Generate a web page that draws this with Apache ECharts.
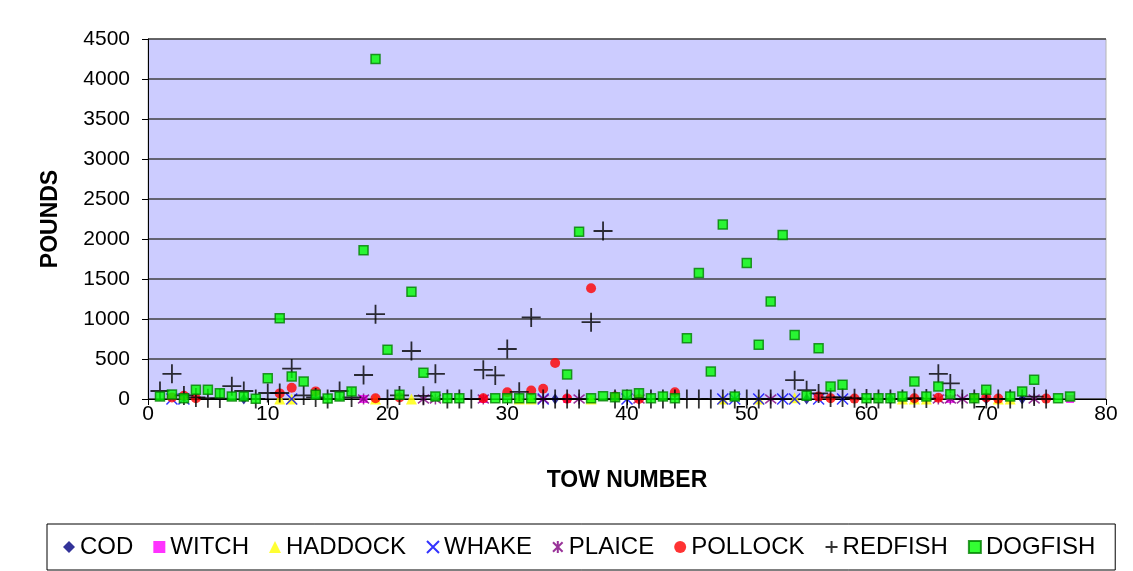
<!DOCTYPE html>
<html>
<head>
<meta charset="utf-8">
<script src="https://cdn.jsdelivr.net/npm/echarts@6/dist/echarts.min.js"></script>
<style>
  html, body { margin: 0; padding: 0; background: #fff; }
  #chart { width: 1133px; height: 571px; }
</style>
</head>
<body>
<div id="chart"></div>
<script>
// tow numbers 1..77
var TOWS = [];
for (var t = 1; t <= 77; t++) TOWS.push(t);

// pounds per tow (index 0 = tow 1), null = no marker
var COD = [
  null, null, null, null, null, null, null, 0, null, null,
  null, null, null, null, null, null, null, null, null, null,
  null, null, null, null, null, null, null, null, null, null,
  null, null, null, 0, null, null, null, null, null, null,
  null, null, null, null, null, null, null, null, null, null,
  null, null, null, null, 0, null, null, null, null, null,
  null, 0, null, null, null, null, null, null, null, 0,
  null, null, 0, null, null, null, null
];
var WITCH = [
  null, null, null, null, null, null, null, null, null, null,
  null, null, null, null, null, null, null, 0, null, null,
  null, null, null, null, null, null, null, 0, null, null,
  null, null, null, null, 0, null, null, null, null, null,
  null, null, null, null, null, null, null, null, null, null,
  null, null, null, null, null, null, null, null, null, null,
  0, null, null, null, null, null, 0, null, null, null,
  null, null, null, null, null, null, 0
];
var HADDOCK = [
  null, null, null, null, null, null, null, null, null, null,
  0, 0, null, null, null, null, null, null, 0, null,
  null, 0, null, null, null, null, null, null, null, null,
  0, 0, null, null, null, null, 0, null, null, null,
  null, null, null, null, null, null, null, 0, null, null,
  0, null, null, 15, null, null, null, null, null, null,
  null, null, 0, 0, 0, null, null, null, null, null,
  0, 0, null, null, null, null, null
];
var WHAKE = [
  null, 0, 0, null, null, null, null, null, null, null,
  null, 0, null, null, null, null, null, null, null, null,
  null, null, null, null, null, null, null, null, null, null,
  null, null, 0, null, null, null, null, null, null, 0,
  null, null, null, null, null, null, null, 0, 0, null,
  0, null, 0, 0, null, 0, null, 0, null, null,
  null, null, null, null, null, null, null, null, null, null,
  null, null, null, null, null, null, null
];
var PLAICE = [
  null, null, null, null, null, null, null, null, null, null,
  null, null, null, null, null, null, null, 0, null, null,
  null, null, 0, 0, null, null, null, 0, null, null,
  null, null, 0, null, null, 0, null, null, null, null,
  0, null, null, null, null, null, null, null, null, null,
  null, 0, null, null, null, null, null, null, null, null,
  null, null, null, null, null, 0, 0, 0, null, null,
  null, null, null, 0, null, null, null
];
var POLLOCK = [
  null, 20, 40, 10, null, null, null, null, null, null,
  70, 140, null, 95, null, null, null, null, 10, null,
  20, null, null, null, null, null, null, 10, null, 85,
  null, 106, 128, 450, 5, null, 1385, null, 30, null,
  0, null, null, 85, null, null, null, null, null, null,
  null, null, null, null, null, 30, 10, null, 5, null,
  null, null, null, 10, null, 15, null, null, 10, 20,
  5, null, null, null, 5, null, null
];
var REDFISH = [
  100, 315, 45, 20, 10, 5, 160, 100, 0, 75,
  75, 380, 45, 20, 0, 100, 20, 300, 1060, 0,
  45, 600, 40, 315, 0, 0, 0, 365, 295, 625,
  90, 1020, 0, 0, 0, 0, 960, 2100, 0, 0,
  0, 0, 0, 0, 0, 0, 0, 0, 0, 0,
  0, 0, 0, 235, 110, 70, 20, 20, 10, 5,
  0, 0, 0, 10, 5, 315, 195, 0, 0, 0,
  0, 0, 0, 30, 0, null, null
];
var DOGFISH = [
  31, 56, 10, 115, 115, 73, 31, 31, 3, 260,
  1010, 282, 219, 52, 5, 31, 94, 1860, 4250, 615,
  52, 1340, 328, 31, 10, 10, null, null, 10, 10,
  10, 10, null, null, 307, 2090, 10, 35, 22, 52,
  73, 10, 31, 10, 760, 1575, 344, 2180, 31, 1700,
  678, 1220, 2050, 800, 40, 635, 156, 178, null, 10,
  10, 10, 31, 219, 31, 156, 60, null, 10, 115,
  null, 31, 94, 240, null, 10, 31
];

function pts(vals) {
  var out = [];
  for (var i = 0; i < TOWS.length; i++) {
    if (vals[i] !== null) out.push([TOWS[i], vals[i]]);
  }
  return out;
}

var FONT = 'Liberation Sans, Arial, sans-serif';

function scatter(name, vals, symbol, size, style) {
  return {
    name: name,
    type: 'scatter',
    data: pts(vals),
    symbol: symbol,
    symbolSize: size,
    itemStyle: style,
    emphasis: { disabled: true }
  };
}

var chart = echarts.init(document.getElementById('chart'));
chart.setOption({
  animation: false,
  backgroundColor: '#fff',
  grid: {
    left: 148,
    top: 39,
    width: 958,
    height: 360,
    show: true,
    backgroundColor: '#CCCCFF',
    borderColor: '#b4b4b4',
    borderWidth: 1
  },
  xAxis: {
    type: 'value',
    min: 0,
    max: 80,
    interval: 10,
    name: 'TOW NUMBER',
    nameLocation: 'middle',
    nameGap: 70,
    nameTextStyle: { color: '#000', fontSize: 23, fontWeight: 'bold', fontFamily: FONT },
    axisLine: { onZero: false, lineStyle: { color: '#000', width: 1 } },
    axisTick: { show: true, inside: false, length: 6, lineStyle: { color: '#000' } },
    axisLabel: { color: '#000', fontSize: 21, fontFamily: FONT, margin: 5 },
    splitLine: { show: false }
  },
  yAxis: {
    type: 'value',
    min: 0,
    max: 4500,
    interval: 500,
    name: 'POUNDS',
    nameLocation: 'middle',
    nameGap: 86,
    nameTextStyle: { color: '#000', fontSize: 23, fontWeight: 'bold', fontFamily: FONT },
    axisLine: { show: true, lineStyle: { color: '#000', width: 1 } },
    axisTick: { show: true, inside: false, length: 6, lineStyle: { color: '#000' } },
    axisLabel: {
      color: '#000', fontSize: 21, fontFamily: FONT, margin: 18,
      formatter: function (v) { return String(v); }
    },
    splitLine: { show: true, lineStyle: { color: '#404040', width: 1.6 } }
  },
  legend: {
    left: 47,
    top: 524,
    orient: 'horizontal',
    itemWidth: 12,
    itemHeight: 12,
    itemGap: 20,
    padding: [11, 20, 11, 16],
    borderColor: '#000',
    borderWidth: 1,
    textStyle: { color: '#000', fontSize: 24, fontFamily: FONT },
    data: ['COD', 'WITCH', 'HADDOCK', 'WHAKE', 'PLAICE', 'POLLOCK', 'REDFISH', 'DOGFISH']
  },
  series: [
    scatter('COD', COD, 'diamond', [8, 11], { color: '#000080' }),
    scatter('WITCH', WITCH, 'rect', 8, { color: '#FF00FF' }),
    scatter('HADDOCK', HADDOCK, 'triangle', 11, { color: '#FFFF00' }),
    scatter('WHAKE', WHAKE, 'path://M0,0L10,10M10,0L0,10', 11,
      { color: '#0000FF', borderColor: '#0000FF', borderWidth: 1.5 }),
    scatter('PLAICE', PLAICE, 'path://M1,1L9,9M9,1L1,9M5,0L5,10', 11,
      { color: '#800080', borderColor: '#800080', borderWidth: 1.5 }),
    scatter('POLLOCK', POLLOCK, 'circle', 10, { color: '#FF0000' }),
    scatter('REDFISH', REDFISH, 'path://M5,0L5,10M0,5L10,5', 19,
      { color: '#000', borderColor: '#000', borderWidth: 1.8 }),
    scatter('DOGFISH', DOGFISH, 'rect', 9,
      { color: '#00FF00', borderColor: '#008000', borderWidth: 1.5 })
  ]
});
</script>
</body>
</html>
